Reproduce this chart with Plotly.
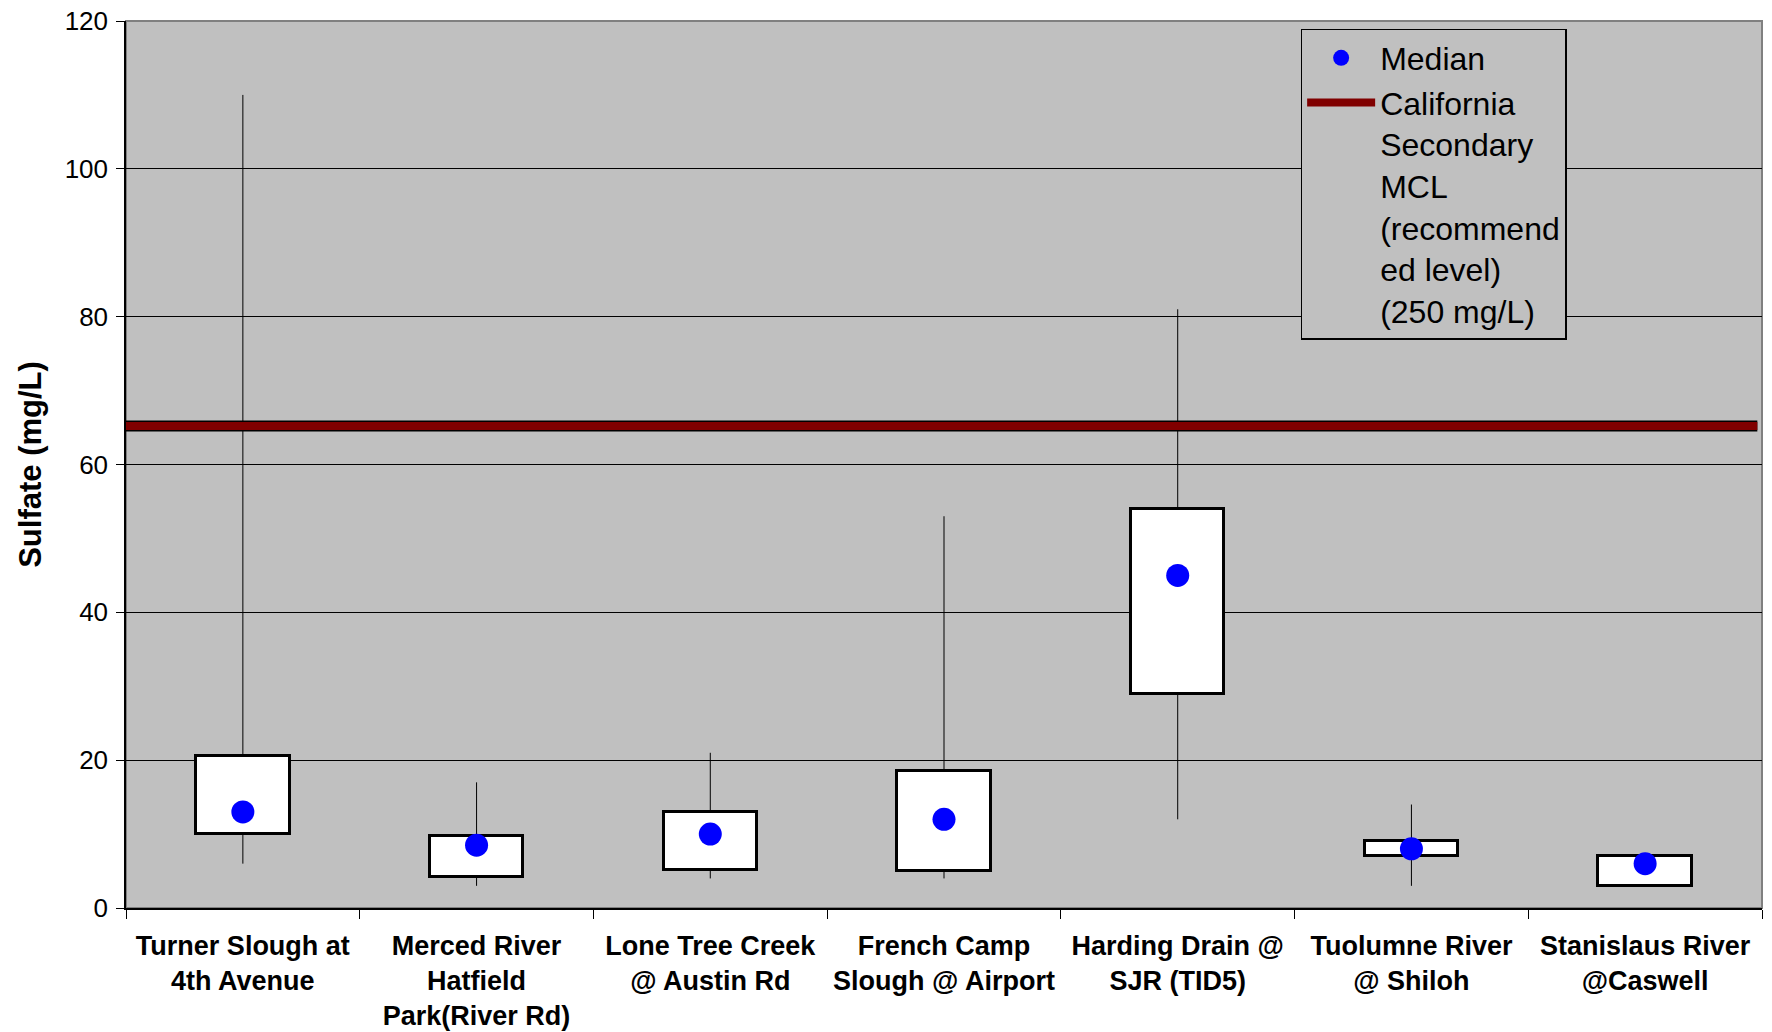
import plotly.graph_objects as go

# ---- data ----
categories = [
    "Turner Slough at 4th Avenue",
    "Merced River Hatfield Park(River Rd)",
    "Lone Tree Creek @ Austin Rd",
    "French Camp Slough @ Airport",
    "Harding Drain @ SJR (TID5)",
    "Tuolumne River @ Shiloh",
    "Stanislaus River @Caswell",
]
tick_labels = [
    "Turner Slough at<br>4th Avenue",
    "Merced River<br>Hatfield<br>Park(River Rd)",
    "Lone Tree Creek<br>@ Austin Rd",
    "French Camp<br>Slough @ Airport",
    "Harding Drain @<br>SJR (TID5)",
    "Tuolumne River<br>@ Shiloh",
    "Stanislaus River<br>@Caswell",
]
minimum = [6.0, 3.0, 4.0, 4.0, 12.0, 3.0, 3.0]
q1 = [10.0, 4.2, 5.2, 5.0, 29.0, 7.0, 3.0]
median = [13.0, 8.5, 10.0, 12.0, 45.0, 8.0, 6.0]
q3 = [20.5, 9.7, 13.0, 18.5, 54.0, 9.0, 7.0]
maximum = [110.0, 17.0, 21.0, 53.0, 81.0, 14.0, 7.0]
mcl_level = 65.2
y_ticks = [0, 20, 40, 60, 80, 100, 120]

FONT = "Liberation Sans, Arial, sans-serif"
pos = list(range(len(categories)))
x_lo, x_hi = -0.5, len(categories) - 0.5

fig = go.Figure()

# whiskers (drawn in two pieces so they do not cross the box)
wx, wy = [], []
for p, lo, a, b, hi in zip(pos, minimum, q1, q3, maximum):
    wx += [p, p, None, p, p, None]
    wy += [lo, a, None, b, hi, None]
fig.add_trace(go.Scatter(x=wx, y=wy, mode="lines", line=dict(color="#000000", width=1),
                         showlegend=False, hoverinfo="skip"))

# boxes
fig.add_trace(go.Bar(x=pos, y=[b - a for a, b in zip(q1, q3)], base=q1, width=0.4,
                     marker=dict(color="#FFFFFF", line=dict(color="#000000", width=3)),
                     showlegend=False, hoverinfo="skip"))

# MCL line (black outline + dark red)
fig.add_trace(go.Scatter(x=[x_lo, x_hi - 0.02], y=[mcl_level, mcl_level], mode="lines",
                         line=dict(color="#000000", width=11), showlegend=False, hoverinfo="skip"))
fig.add_trace(go.Scatter(x=[x_lo, x_hi - 0.02], y=[mcl_level, mcl_level], mode="lines",
                         line=dict(color="#800000", width=8), legendrank=2,
                         name="California<br>Secondary<br>MCL<br>(recommend<br>ed level)<br>(250 mg/L)"))

# medians
fig.add_trace(go.Scatter(x=pos, y=median, mode="markers", name="Median", legendrank=1,
                         marker=dict(color="#0000FF", size=23, line=dict(color="#0000FF", width=0))))

fig.add_shape(type="rect", xref="paper", yref="paper", x0=0, x1=1, y0=0, y1=1,
              line=dict(color="#808080", width=2), layer="below")

fig.update_layout(
    width=1772, height=1032,
    margin=dict(l=126, r=10, t=21, b=124, autoexpand=False),
    paper_bgcolor="#FFFFFF", plot_bgcolor="#C0C0C0",
    font=dict(family=FONT, size=26, color="#000000"),
    bargap=0,
    legend=dict(x=0.718, y=0.991, xanchor="left", yanchor="top",
                bgcolor="#C0C0C0", bordercolor="#000000", borderwidth=1.5,
                font=dict(family=FONT, size=32, color="#000000"),
                valign="top", itemwidth=68, tracegroupgap=0),
    xaxis=dict(range=[x_lo, x_hi], tickmode="array", tickvals=pos,
               ticktext=["<b>" + t + "</b>" for t in tick_labels],
               ticks="", showgrid=False, zeroline=False, automargin=False,
               showline=True, linecolor="#000000", linewidth=1.5,
               tickfont=dict(family=FONT, size=27, color="#000000"),
               ticklabelstandoff=13,
               minor=dict(tickmode="array", tickvals=[x_lo + i for i in range(len(categories) + 1)],
                          ticks="outside", ticklen=9, tickwidth=1, tickcolor="#000000", showgrid=False)),
    yaxis=dict(range=[0, 120], tickmode="array", tickvals=y_ticks,
               ticks="outside", ticklen=8, tickwidth=1, tickcolor="#000000",
               showgrid=True, gridcolor="#000000", gridwidth=1, zeroline=False, automargin=False,
               showline=True, linecolor="#000000", linewidth=1.5,
               tickfont=dict(family=FONT, size=26, color="#000000"),
               ticklabelstandoff=3,
               title=dict(text="<b>Sulfate (mg/L)</b>", font=dict(family=FONT, size=31),
                          standoff=14)),
)

fig.write_html("out.html", config={"displayModeBar": False},
               post_script="document.body.style.margin='0';document.body.style.overflow='hidden';")
